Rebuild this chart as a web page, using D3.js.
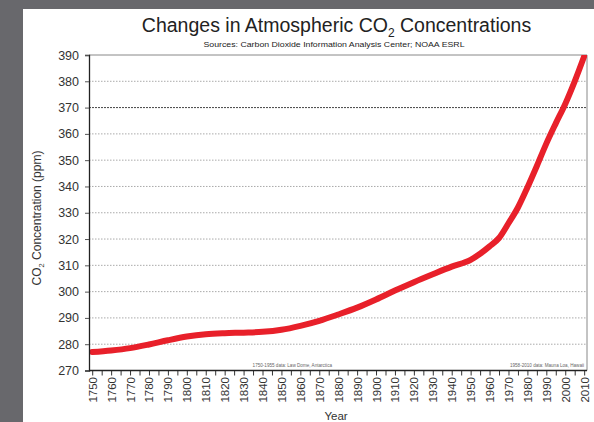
<!DOCTYPE html>
<html><head><meta charset="utf-8">
<script src="https://cdn.jsdelivr.net/npm/d3@7"></script>
<style>
html,body{margin:0;padding:0;background:#68686c;}
svg{display:block;font-family:"Liberation Sans",Arial,sans-serif;}
</style></head>
<body>
<svg id="c" width="594" height="422"></svg>
<script>
const years = [1750,1760,1770,1780,1790,1800,1810,1820,1830,1840,1850,1860,1870,1880,1890,1900,1910,1920,1930,1940,1950,1955,1960,1965,1970,1975,1980,1985,1990,1995,2000,2005,2010];
const co2   = [277.0,277.6,278.5,279.9,281.5,282.9,283.8,284.2,284.4,284.7,285.5,287.0,288.9,291.3,293.9,297.0,300.4,303.6,306.6,309.5,312.1,314.4,317.2,320.4,326.0,332.0,339.6,347.8,356.3,364.0,371.4,380.0,389.5];
const yTicks = [270,280,290,300,310,320,330,340,350,360,370,380,390];
const xLabelYears = d3.range(1750, 2011, 10);
const xTickYears = d3.range(1750, 2011, 5);

const svg = d3.select("#c");
// white panel
svg.append("rect").attr("x",23).attr("y",9).attr("width",594-23).attr("height",422-9).attr("fill","#fff");

const L=89, R=587, T=55, B=370.5;
const x = d3.scaleLinear().domain([1748.3, 2011.5]).range([L, R]);
const y = d3.scaleLinear().domain([270, 390]).range([B, T]);

// gridlines
svg.append("g").selectAll("line").data(yTicks.filter(v=>v>270 && v<390)).join("line")
  .attr("x1",L).attr("x2",R).attr("y1",d=>y(d)).attr("y2",d=>y(d))
  .attr("stroke",d=>d===370?"#444":"#aaa").attr("stroke-width",1)
  .attr("stroke-dasharray",d=>d===370?"2,1":"1.5,1.5");

// border top/right
svg.append("path").attr("d",`M${L},${T}H${R}V${B}`).attr("fill","none").attr("stroke","#888").attr("stroke-width",1);

// annotations
svg.append("text").attr("x",332).attr("y",367).attr("text-anchor","end").attr("font-size",4.6).attr("fill","#666")
  .text("1750-1955 data: Law Dome, Antarctica");
svg.append("text").attr("x",584).attr("y",367).attr("text-anchor","end").attr("font-size",4.6).attr("fill","#666")
  .text("1958-2010 data: Mauna Loa, Hawaii");

// line
svg.append("clipPath").attr("id","clip").append("rect").attr("x",L).attr("y",T).attr("width",R-L).attr("height",B-T);
const line = d3.line().x((d,i)=>x(years[i])).y(d=>y(d)).curve(d3.curveMonotoneX);
svg.append("path").datum(co2).attr("d",line).attr("fill","none").attr("stroke","#e8202a")
  .attr("stroke-width",6).attr("stroke-linecap","round").attr("stroke-linejoin","round").attr("clip-path","url(#clip)");

// y axis
const ya = svg.append("g").attr("transform",`translate(${L},0)`)
  .call(d3.axisLeft(y).tickValues(yTicks).tickSize(4).tickPadding(6).tickFormat(d3.format("d")));
ya.select(".domain").attr("stroke","#222").attr("stroke-width",1.3);
ya.selectAll(".tick line").attr("stroke","#555");
ya.selectAll("text").attr("font-size",12.5).attr("fill","#333").attr("font-family","Liberation Sans, Arial, sans-serif");

// x axis
const xa = svg.append("g").attr("transform",`translate(0,${B})`)
  .call(d3.axisBottom(x).tickValues(xTickYears).tickSize(5).tickFormat(""));
xa.select(".domain").remove();
xa.selectAll(".tick line").attr("stroke","#333");
svg.append("line").attr("x1",L).attr("x2",R).attr("y1",B).attr("y2",B).attr("stroke","#222").attr("stroke-width",1.3);
svg.append("g").selectAll("text").data(xLabelYears).join("text")
  .attr("transform",d=>`translate(${x(d)+4.5},${377}) rotate(-90)`)
  .attr("text-anchor","end").attr("font-size",11.5).attr("fill","#333").text(d=>d);

// titles
const t = svg.append("text").attr("x",336.5).attr("y",32).attr("text-anchor","middle").attr("font-size",19.5).attr("fill","#222");
t.append("tspan").text("Changes in Atmospheric CO");
t.append("tspan").attr("font-size",12).attr("dy",5).text("2");
t.append("tspan").attr("dy",-5).text(" Concentrations");

svg.append("text").attr("x",334).attr("y",47).attr("text-anchor","middle").attr("font-size",7.8).attr("fill","#222")
  .attr("textLength",261).attr("lengthAdjust","spacingAndGlyphs")
  .text("Sources: Carbon Dioxide Information Analysis Center; NOAA ESRL");

const yl = svg.append("text").attr("transform","translate(41,218) rotate(-90)").attr("text-anchor","middle").attr("font-size",12).attr("fill","#333");
yl.append("tspan").text("CO");
yl.append("tspan").attr("font-size",7.5).attr("dy",3).text("2");
yl.append("tspan").attr("dy",-3).text(" Concentration (ppm)");

svg.append("text").attr("x",336).attr("y",420).attr("text-anchor","middle").attr("font-size",11.5).attr("fill","#333").text("Year");
</script>
</body></html>
